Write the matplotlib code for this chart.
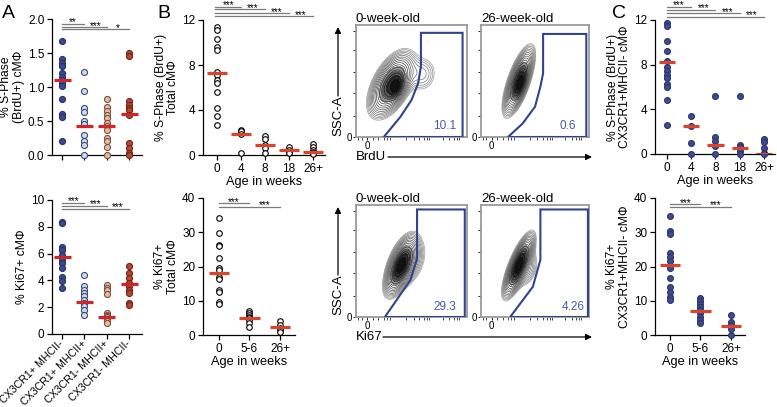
import numpy as np
import matplotlib
matplotlib.use("Agg")
import matplotlib.pyplot as plt
from matplotlib.patches import Polygon
from matplotlib.transforms import offset_copy

plt.rcParams['font.family'] = ['Liberation Sans', 'DejaVu Sans']
plt.rcParams['font.size'] = 8.7

W, H = 777, 407

# ---------------- data ----------------
a_groups = ["CX3CR1+ MHCII-", "CX3CR1+ MHCII+", "CX3CR1- MHCII+", "CX3CR1- MHCII-"]
a_fill = ["#3c4a8c", "#cddbee", "#e5bba5", "#b8472f"]
a_edge = ["#27336e", "#3c4a7a", "#7c5140", "#6e2618"]

a_brdu = [
    [1.67, 1.41, 1.36, 1.31, 1.20, 1.15, 1.11, 1.06, 1.01, 0.82, 0.61, 0.56, 0.21],
    [1.22, 0.94, 0.69, 0.63, 0.50, 0.45, 0.30, 0.21, 0.15, 0.0],
    [0.82, 0.70, 0.65, 0.59, 0.54, 0.47, 0.42, 0.37, 0.25, 0.20, 0.12, 0.0],
    [1.50, 1.45, 0.80, 0.74, 0.69, 0.66, 0.59, 0.17, 0.10, 0.03, 0.0],
]
a_brdu_med = [1.10, 0.43, 0.42, 0.60]
a_brdu_sig = [(1, 1.93, "**"), (2, 1.88, "***"), (3, 1.85, "*")]

a_ki67 = [
    [8.39, 8.26, 6.50, 6.25, 5.88, 5.51, 5.29, 4.91, 4.29, 3.92, 3.42],
    [4.42, 3.55, 3.30, 3.05, 2.80, 2.56, 2.31, 2.06, 1.81, 1.44],
    [3.67, 3.45, 3.25, 3.00, 1.55, 1.45, 1.35, 1.25, 1.10, 0.95, 0.85],
    [5.10, 4.54, 4.17, 3.80, 3.55, 3.30, 3.05, 2.31, 2.18],
]
a_ki67_med = [5.78, 2.41, 1.28, 3.72]
a_ki67_sig = [(1, 9.78, "***"), (2, 9.55, "***"), (3, 9.33, "***")]

b_brdu_ages = ["0", "4", "8", "18", "26+"]
b_brdu = [
    [11.4, 11.1, 10.3, 9.6, 9.3, 7.4, 7.1, 6.7, 6.4, 5.6, 4.2, 3.5, 2.7],
    [2.2, 2.1, 1.9, 0.15],
    [1.7, 1.4, 0.9, 0.6, 0.2],
    [0.75, 0.45, 0.3, 0.15],
    [0.95, 0.75, 0.45, 0.3, 0.15, 0.05],
]
b_brdu_med = [7.26, 1.87, 0.90, 0.45, 0.30]
b_brdu_sig = [(1, 13.2, "***"), (2, 12.95, "***"), (3, 12.6, "***"), (4, 12.35, "***")]

b_ki67_ages = ["0", "5-6", "26+"]
b_ki67 = [
    [34.1, 29.9, 26.3, 25.9, 22.6, 19.5, 19.0, 16.8, 16.3, 13.2, 12.7, 9.5, 9.1],
    [7.1, 6.3, 5.9, 5.4, 4.9, 4.4, 3.4, 2.4],
    [4.1, 2.9, 2.0, 1.5, 1.0],
]
b_ki67_med = [18.2, 4.9, 2.2]
b_ki67_sig = [(1, 38.4, "***"), (2, 37.5, "***")]

c_brdu = [
    [11.7, 11.5, 10.1, 9.2, 8.3, 7.8, 7.4, 7.1, 6.8, 6.3, 6.0, 4.8, 2.6],
    [3.4, 2.5, 1.0, 0.0],
    [5.15, 1.5, 1.2, 0.75, 0.0],
    [5.2, 0.85, 0.6, 0.3, 0.0],
    [1.3, 1.1, 0.55, 0.05, 0.0],
]
c_brdu_med = [8.27, 2.47, 0.83, 0.55, 0.03]
c_brdu_sig = [(1, 13.2, "***"), (2, 12.9, "***"), (3, 12.6, "***"), (4, 12.3, "***")]

c_ki67 = [
    [34.6, 30.4, 29.4, 24.0, 22.9, 21.5, 19.5, 16.6, 14.1, 12.7, 11.2, 10.2],
    [10.7, 9.8, 9.1, 8.3, 7.3, 6.3, 5.4, 4.4, 3.4],
    [5.9, 3.9, 2.9, 1.7, 0.0],
]
c_ki67_med = [20.4, 7.0, 2.7]
c_ki67_sig = [(1, 38.2, "***"), (2, 37.4, "***")]

# flow plots: density blobs (cx, cy, major sd, minor sd, angle, weight), gates, gate %
brdu_0wk_blobs = [(0.32, 0.47, 0.15, 0.075, 62, 1.0), (0.37, 0.44, 0.07, 0.035, 70, 0.5),
                  (0.60, 0.56, 0.10, 0.08, 80, 0.15)]
brdu_26wk_blobs = [(0.35, 0.50, 0.15, 0.045, 70, 1.0), (0.37, 0.46, 0.08, 0.025, 72, 0.4)]
ki67_0wk_blobs = [(0.40, 0.45, 0.13, 0.05, 68, 1.0), (0.47, 0.50, 0.13, 0.08, 70, 0.25)]
ki67_26wk_blobs = [(0.35, 0.46, 0.14, 0.04, 67, 1.0), (0.44, 0.42, 0.10, 0.05, 70, 0.12)]

brdu_0wk_gate = [(0.25, 0.0), (0.40, 0.18), (0.50, 0.33), (0.56, 0.48), (0.585, 0.63),
                 (0.585, 0.93), (0.96, 0.93), (0.96, 0.0)]
brdu_26wk_gate = [(0.25, 0.0), (0.385, 0.12), (0.50, 0.27), (0.55, 0.45), (0.575, 0.57),
                  (0.575, 0.92), (0.975, 0.92), (0.975, 0.0)]
ki67_0wk_gate = [(0.26, 0.0), (0.49, 0.33), (0.55, 0.52), (0.55, 0.96), (0.98, 0.96), (0.98, 0.0)]
ki67_26wk_gate = [(0.27, 0.0), (0.48, 0.27), (0.55, 0.51), (0.55, 0.96), (0.99, 0.96), (0.99, 0.0)]

flow_pct = ["10.1", "0.6", "29.3", "4.26"]

# ---------------- figure ----------------
fig = plt.figure(figsize=(W / 100, H / 100), dpi=100)


def px_axes(l, t, r, b):
    return fig.add_axes([l / W, 1 - b / H, (r - l) / W, (b - t) / H])


def dot_panel(ax, groups, meds, fill, edge, size, med_col, med_half, sig, sig_x0,
              xlim, ylim, yticks, ylabel, xticklabels, xlabel=None):
    for i, vals in enumerate(groups):
        ax.scatter([i] * len(vals), vals, s=size, color=fill[i], edgecolors=edge[i],
                   linewidths=0.8, zorder=3, clip_on=False)
        ax.hlines(meds[i], i - med_half, i + med_half, color=med_col, lw=2.3, zorder=4)
    star_tr = offset_copy(ax.transData, fig=fig, y=-1.1, units="points")
    for end, y, lab in sig:
        ax.plot([sig_x0, end], [y, y], color="#7a7a7a", lw=0.9, clip_on=False)
        ax.text(end - 0.5, y, lab, ha="center", va="baseline", fontsize=7.2,
                transform=star_tr, clip_on=False)
    ax.set_xlim(*xlim)
    ax.set_ylim(*ylim)
    ax.set_yticks(yticks)
    ax.set_xticks(range(len(groups)))
    ax.set_xticklabels(xticklabels)
    for s in ["top", "right"]:
        ax.spines[s].set_visible(False)
    for s in ["left", "bottom"]:
        ax.spines[s].set_linewidth(0.9)
    ax.tick_params(direction="out", length=3.5, width=0.9, pad=2, labelsize=8.5)
    ax.set_ylabel(ylabel, linespacing=1.1, labelpad=2, fontsize=8.7)
    if xlabel:
        ax.set_xlabel(xlabel, labelpad=1, fontsize=9.2)


# Panel A
ax = px_axes(52, 19, 142, 155)
dot_panel(ax, a_brdu, a_brdu_med, a_fill, a_edge, 19, "#d0252b", 0.38, a_brdu_sig, 0,
          (-0.45, 3.58), (0, 2.0), [0, 0.5, 1.0, 1.5, 2.0], "% S-Phase\n(BrdU+) cM\u03a6",
          [""] * 4)
ax.set_yticklabels(["0.0", "0.5", "1.0", "1.5", "2.0"])

ax = px_axes(52, 200, 142, 334)
dot_panel(ax, a_ki67, a_ki67_med, a_fill, a_edge, 19, "#d0252b", 0.38, a_ki67_sig, 0,
          (-0.45, 3.58), (0, 10), [0, 2, 4, 6, 8, 10], "% Ki67+ cM\u03a6", a_groups)
for lab in ax.get_xticklabels():
    lab.set_rotation(45)
    lab.set_ha("right")
    lab.set_va("center")
    lab.set_rotation_mode("anchor")
    lab.set_fontsize(7.7)

# Panel B
open_fill = ["white"] * 5
open_edge = ["black"] * 5
ax = px_axes(203, 20, 325, 155)
dot_panel(ax, b_brdu, b_brdu_med, open_fill, open_edge, 16, "#d9442c", 0.42, b_brdu_sig, -0.08,
          (-0.58, 4.5), (0, 12), [0, 4, 8, 12], "% S-Phase (BrdU+)\nTotal cM\u03a6",
          b_brdu_ages, "Age in weeks")

ax = px_axes(203, 198, 295, 335)
dot_panel(ax, b_ki67, b_ki67_med, open_fill, open_edge, 16, "#d9442c", 0.34, b_ki67_sig, 0,
          (-0.52, 2.49), (0, 40), [0, 10, 20, 30, 40], "% Ki67+\nTotal cM\u03a6",
          b_ki67_ages, "Age in weeks")

# Panel C
c_fill = ["#3f4b8f"] * 5
c_edge = ["#2b356e"] * 5
ax = px_axes(655, 20, 775, 154)
dot_panel(ax, c_brdu, c_brdu_med, c_fill, c_edge, 18, "#d9442c", 0.33, c_brdu_sig, 0,
          (-0.49, 4.45), (0, 12), [0, 4, 8, 12], "% S-Phase (BrdU+)\nCX3CR1+MHCII- cM\u03a6",
          b_brdu_ages, "Age in weeks")

ax = px_axes(655, 198, 745, 335)
dot_panel(ax, c_ki67, c_ki67_med, c_fill, c_edge, 18, "#d9442c", 0.34, c_ki67_sig, 0,
          (-0.49, 2.46), (0, 40), [0, 10, 20, 30, 40], "% Ki67+\nCX3CR1+MHCII- cM\u03a6",
          b_ki67_ages, "Age in weeks")


# Flow cytometry contour plots
def density(blobs, X, Y):
    Z = np.zeros_like(X)
    for cx, cy, a, b, th, w in blobs:
        t = np.deg2rad(th)
        dx, dy = X - cx, Y - cy
        u = dx * np.cos(t) + dy * np.sin(t)
        v = -dx * np.sin(t) + dy * np.cos(t)
        Z += w * np.exp(-0.5 * ((u / a) ** 2 + (v / b) ** 2))
    return Z


gx = np.linspace(0, 1, 240)
GX, GY = np.meshgrid(gx, gx)
bottom_minor = [0.02, 0.05, 0.15, 0.2, 0.25, 0.28, 0.31, 0.45, 0.52, 0.57, 0.61, 0.64,
                0.66, 0.78, 0.84, 0.88, 0.91, 0.93]


def flow_panel(box, blobs, gate, pct, pct_xy, title):
    ax = px_axes(*box)
    Z = density(blobs, GX, GY)
    zmax = Z.max()
    n = 16
    levels = zmax * np.geomspace(0.05, 0.9, n)
    cols = [str(g) for g in np.linspace(0.6, 0.05, n)]
    ax.contourf(GX, GY, Z, levels=zmax * np.array([0.4, 0.55, 0.7, 0.85, 1.01]),
                colors=["#9a9a9a", "#5a5a5a", "#2c2c2c", "#121212"])
    ax.contour(GX, GY, Z, levels=levels, colors=cols, linewidths=0.5)
    ax.add_patch(Polygon(gate, closed=True, fill=False, edgecolor="#33428c", lw=1.5,
                         joinstyle="miter", zorder=5))
    ax.text(pct_xy[0], pct_xy[1], pct, color="#4a5a9c", fontsize=8.5, ha="center", va="center")
    ax.set_xlim(0, 1)
    ax.set_ylim(0, 1)
    for s in ax.spines.values():
        s.set_color("#9a9a9a")
        s.set_linewidth(1.3)
    ax.set_yticks([0, 0.19, 0.39, 0.58, 0.78, 0.95])
    ax.set_yticklabels(["0", "", "", "", "", ""])
    ax.set_xticks([0.1])
    ax.set_xticklabels(["0"])
    ax.set_xticks(bottom_minor, minor=True)
    ax.tick_params(direction="out", length=2.5, width=0.6, pad=0.5, labelsize=7)
    ax.tick_params(which="minor", direction="out", length=1.8, width=0.5)
    ax.set_title(title, loc="left", fontsize=9.5, pad=2)


flow_panel((356, 25, 467, 137), brdu_0wk_blobs, brdu_0wk_gate, flow_pct[0], (0.8, 0.1), "0-week-old")
flow_panel((481, 25, 589, 137), brdu_26wk_blobs, brdu_26wk_gate, flow_pct[1], (0.8, 0.1), "26-week-old")
flow_panel((356, 205, 467, 317), ki67_0wk_blobs, ki67_0wk_gate, flow_pct[2], (0.8, 0.09), "0-week-old")
flow_panel((481, 205, 589, 317), ki67_26wk_blobs, ki67_26wk_gate, flow_pct[3], (0.85, 0.09), "26-week-old")

# overlay for letters and flow axis arrows
ov = fig.add_axes([0, 0, 1, 1])
ov.set_xlim(0, W)
ov.set_ylim(H, 0)
ov.axis("off")
for x, lab in [(2, "A"), (157, "B"), (612, "C")]:
    ov.text(x, 18, lab, fontsize=14, va="baseline", ha="left")

arrow = dict(arrowstyle="-|>", color="black", lw=0.9, mutation_scale=9, shrinkA=0, shrinkB=0)
for ytxt, ytop, xlab_y, xlab, xstart in [(116, 27, 157, "BrdU", 388), (295, 207, 337, "Ki67", 383)]:
    ov.text(338, ytxt, "SSC-A", rotation=90, ha="center", va="center", fontsize=9.5)
    ov.annotate("", xy=(338, ytop), xytext=(338, ytxt - 20), arrowprops=arrow)
    ov.text(356, xlab_y, xlab, ha="left", va="center", fontsize=9.5)
    ov.annotate("", xy=(592, xlab_y), xytext=(xstart, xlab_y), arrowprops=arrow)

fig.savefig("out.png", dpi=100)
